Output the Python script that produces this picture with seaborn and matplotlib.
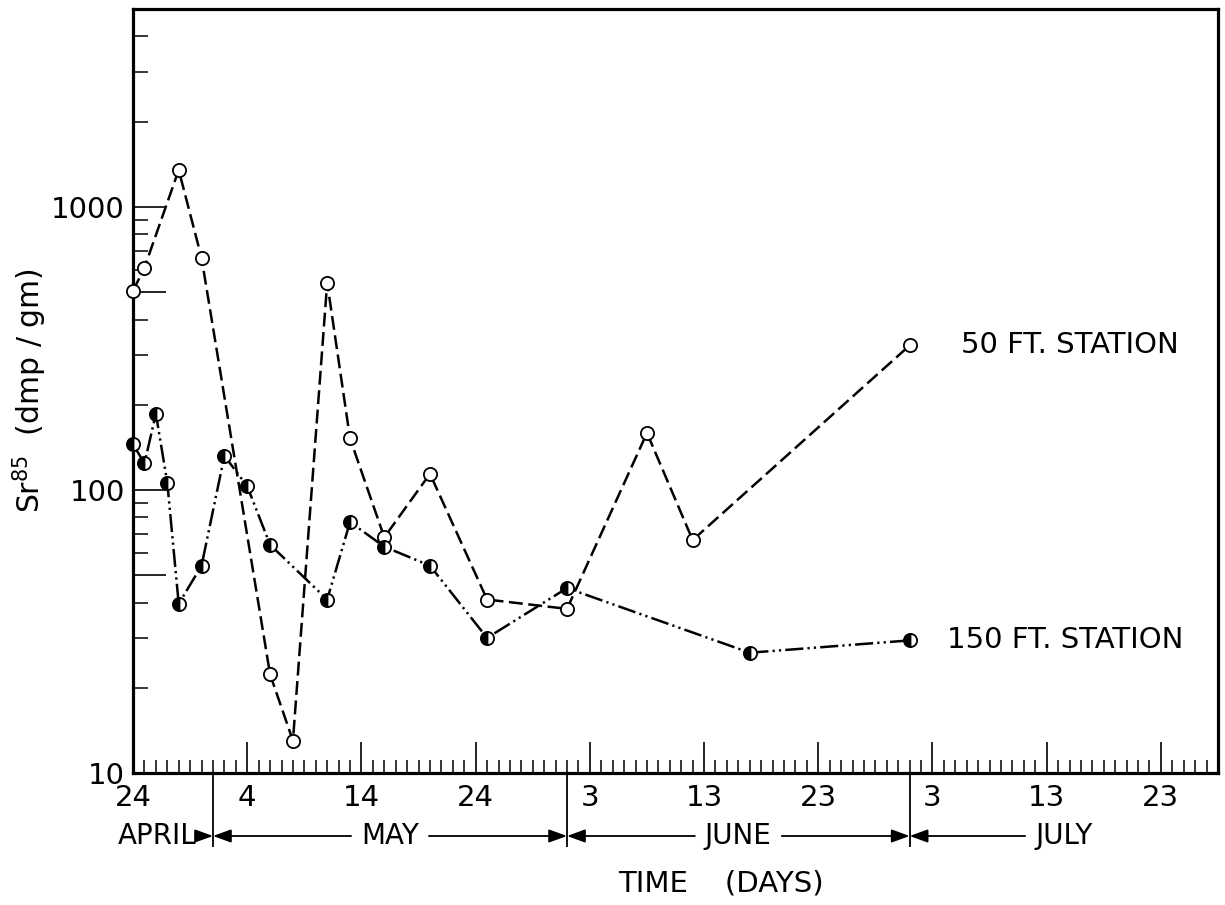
import matplotlib
matplotlib.use("Agg")
import matplotlib.pyplot as plt
import numpy as np
import pandas as pd
import seaborn as sns
from matplotlib.ticker import FixedLocator, FixedFormatter, NullFormatter

# ---- data -----------------------------------------------------------------
# sampling days, counted from 24 April
days_50ft = [0, 1, 4, 6, 12, 14, 17, 19, 22, 26, 31, 38, 45, 49, 68]
sr85_50ft = [505, 610, 1350, 660, 22.3, 13.0, 540, 152, 68, 114, 41, 38, 159, 66.5, 324]

days_150ft = [0, 1, 2, 3, 4, 6, 8, 10, 12, 17, 19, 22, 26, 31, 38, 54, 68]
sr85_150ft = [145, 124, 186, 106, 39.6, 54, 132, 103, 64, 41, 77, 63, 54, 30, 45, 26.6, 29.4]

station_labels = ["50 FT. STATION", "150 FT. STATION"]

day_ticks = [0, 10, 20, 30, 40, 50, 60, 70, 80, 90]
day_tick_labels = ["24", "4", "14", "24", "3", "13", "23", "3", "13", "23"]

y_ticks = [10, 100, 1000]
y_tick_labels = ["10", "100", "1000"]

month_names = ["APRIL", "MAY", "JUNE", "JULY"]
month_numbers = [4, 5, 6, 7]
start_date = pd.Timestamp("1957-04-24")

x_range = (0, 95)
y_range = (10, 5000)

# ---- style ----------------------------------------------------------------
sns.set_style("white")
plt.rcParams["font.family"] = ["DejaVu Sans"]
plt.rcParams["lines.scale_dashes"] = False
plt.rcParams["mathtext.fontset"] = "dejavusans"
for key in ["text.color", "axes.labelcolor", "xtick.color", "ytick.color", "axes.edgecolor"]:
    plt.rcParams[key] = "black"

fig = plt.figure(figsize=(12.25, 9.05), dpi=100)
ax = fig.add_axes([0.1086, 0.1459, 0.9943 - 0.1086, 0.990 - 0.1459])
ax.set_yscale("log")

df50 = pd.DataFrame({"day": days_50ft, "sr85": sr85_50ft})
df150 = pd.DataFrame({"day": days_150ft, "sr85": sr85_150ft})

sns.lineplot(data=df50, x="day", y="sr85", ax=ax, estimator=None, sort=False,
             color="black", linewidth=1.8, linestyle=(0, (10, 4)),
             marker="o", markersize=9.5, markerfacecolor="white",
             markeredgecolor="black", markeredgewidth=1.3, zorder=3, clip_on=False)
sns.lineplot(data=df150, x="day", y="sr85", ax=ax, estimator=None, sort=False,
             color="black", linewidth=1.8, linestyle=(0, (13, 3, 1.6, 3, 1.6, 3)),
             marker="o", markersize=9.5, fillstyle="left",
             markerfacecolor="black", markerfacecoloralt="white",
             markeredgecolor="black", markeredgewidth=1.3, zorder=3, clip_on=False)

ax.set_xlim(*x_range)
ax.set_ylim(*y_range)

# ---- axes frame and ticks ---------------------------------------------------
for side in ["left", "right", "top", "bottom"]:
    ax.spines[side].set_linewidth(2.3)
    ax.spines[side].set_color("black")

ax.xaxis.set_major_locator(FixedLocator(day_ticks))
ax.xaxis.set_major_formatter(FixedFormatter(day_tick_labels))
ax.xaxis.set_minor_locator(FixedLocator(np.arange(x_range[0], x_range[1] + 1)))

decades = [10, 100, 1000]
y_major = sorted(set([d for d in decades] + [5 * d for d in decades]))
y_major = [v for v in y_major if v < y_range[1]]
y_major_labels = [y_tick_labels[y_ticks.index(v)] if v in y_ticks else "" for v in y_major]
ax.yaxis.set_major_locator(FixedLocator(y_major))
ax.yaxis.set_major_formatter(FixedFormatter(y_major_labels))
y_minor = [m * d for d in decades for m in (2, 3, 4, 6, 7, 8, 9) if m * d < y_range[1]]
ax.yaxis.set_minor_locator(FixedLocator(y_minor))
ax.yaxis.set_minor_formatter(NullFormatter())

ax.tick_params(axis="x", which="major", direction="in", length=22, width=1.2,
               pad=8, labelsize=21, top=False, bottom=True)
ax.tick_params(axis="x", which="minor", direction="in", length=9.5, width=1.1,
               top=False, bottom=True)
ax.tick_params(axis="y", which="major", direction="in", length=24, width=1.2,
               pad=6, labelsize=21, left=True, right=False)
ax.tick_params(axis="y", which="minor", direction="in", length=11, width=1.1,
               left=True, right=False)

# ---- axis labels ------------------------------------------------------------
ax.set_xlabel("TIME    (DAYS)", fontsize=21)
ax.xaxis.set_label_coords(0.542, -0.127)
ax.set_ylabel(r"Sr$^{85}$  (dmp / gm)", fontsize=21.5)
ax.yaxis.set_label_coords(-0.077, 0.5)

# ---- station labels at the last point of each series ----------------------
for days, vals, label, dx in [(days_50ft, sr85_50ft, station_labels[0], 37),
                              (days_150ft, sr85_150ft, station_labels[1], 27)]:
    ax.annotate(label, xy=(days[-1], vals[-1]), xytext=(dx, 0),
                textcoords="offset points", ha="left", va="center",
                fontsize=21, annotation_clip=False)

# ---- month row below the day labels ---------------------------------------
xt = ax.get_xaxis_transform()
row_y = -0.0825
month_starts = [(pd.Timestamp(year=start_date.year, month=m, day=1) - start_date).days
                for m in month_numbers]
month_ends = month_starts[1:] + [x_range[1]]

for s in month_starts:
    if x_range[0] < s < x_range[1]:
        ax.plot([s, s], [0, -0.097], transform=xt, color="black", lw=1.3,
                clip_on=False, solid_capstyle="butt")

fig.canvas.draw()
renderer = fig.canvas.get_renderer()
px_per_day = ax.transData.transform((1, 1))[0] - ax.transData.transform((0, 1))[0]
arrow_kw = dict(arrowstyle="-|>,head_length=0.55,head_width=0.2", color="black",
                lw=1.3, shrinkA=0, shrinkB=0, mutation_scale=20)
gap_px = 10

for name, s, e in zip(month_names, month_starts, month_ends):
    lo, hi = max(s, x_range[0]), min(e, x_range[1])
    t = ax.text((lo + hi) / 2, row_y, name, transform=xt, ha="center", va="center",
                fontsize=20, clip_on=False)
    w_days = t.get_window_extent(renderer).width / px_per_day
    if w_days + 2 * gap_px / px_per_day > (hi - lo):
        # too narrow for a centred label: set it just before the month's end
        t.set_ha("right")
        t.set_x(hi - 1.4)
        left_edge, right_edge = hi - 1.4 - w_days, hi - 1.4
        g = 0.1
    else:
        left_edge, right_edge = (lo + hi) / 2 - w_days / 2, (lo + hi) / 2 + w_days / 2
        g = gap_px / px_per_day
    if s > x_range[0] and left_edge - g > s:
        ax.annotate("", xy=(s, row_y), xytext=(left_edge - g, row_y),
                    xycoords=xt, textcoords=xt, arrowprops=arrow_kw,
                    annotation_clip=False)
    if e < x_range[1] and right_edge + g < e:
        ax.annotate("", xy=(e, row_y), xytext=(right_edge + g, row_y),
                    xycoords=xt, textcoords=xt, arrowprops=arrow_kw,
                    annotation_clip=False)

fig.savefig("out.png", dpi=100, facecolor="white")
